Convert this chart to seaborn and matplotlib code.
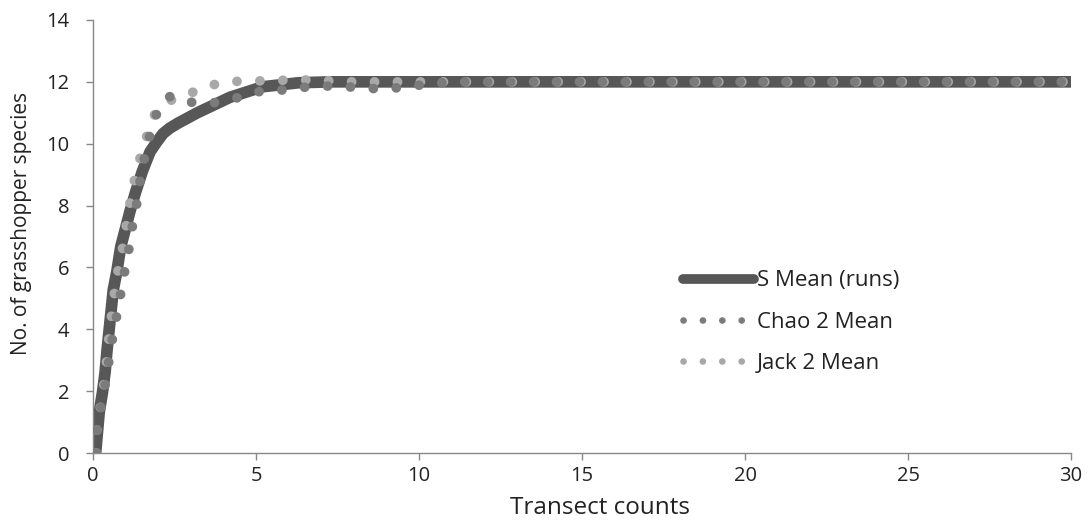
import matplotlib
matplotlib.use("Agg")
import matplotlib.pyplot as plt
from matplotlib.lines import Line2D
import seaborn as sns

# Species accumulation curves (grasshopper transect survey)
s_x = [0.08, 0.19, 0.29, 0.37, 0.43, 0.62, 0.73, 0.85, 1.13, 1.31, 1.51, 1.75,
       1.95, 2.15, 2.35, 2.6, 3.2, 4.2, 5.2, 6.3, 7.3, 30.0]
s_y = [0.0, 1.32, 1.96, 2.61, 3.33, 5.27, 5.87, 6.67, 7.8, 8.45, 9.1, 9.74,
       10.05, 10.33, 10.5, 10.66, 11.0, 11.5, 11.84, 11.97, 12.0, 12.0]

chao_x = [0.1, 0.11, 0.21, 0.33, 0.44, 0.52, 0.63, 0.75, 0.86, 0.97, 1.09, 1.18,
          1.30, 1.40, 1.48, 1.62, 1.77, 1.97, 2.33, 2.6, 3.05, 3.77, 4.49, 5.15,
          5.87, 6.59, 7.36, 8.08, 8.79, 9.51, 10.26, 11.0, 30.0]
chao_y = [0.0, 0.66, 1.32, 1.96, 2.61, 3.26, 3.9, 4.57, 5.22, 5.87, 6.52, 7.19,
          7.8, 8.45, 9.1, 9.74, 10.39, 11.03, 11.52, 11.52, 11.33, 11.33, 11.5, 11.7,
          11.74, 11.84, 11.87, 11.82, 11.77, 11.82, 11.93, 12.0, 12.0]

jack_x = [0.1, 0.11, 0.2, 0.3, 0.38, 0.44, 0.5, 0.58, 0.66, 0.76, 0.89, 0.99,
          1.09, 1.19, 1.33, 1.5, 1.7, 1.93, 2.5, 3.2, 3.87, 4.59, 5.3, 6.02,
          6.77, 8.0, 30.0]
jack_y = [0.0, 0.66, 1.32, 1.96, 2.61, 3.26, 3.9, 4.57, 5.22, 5.87, 6.52, 7.19,
          7.8, 8.45, 9.1, 9.77, 10.42, 11.05, 11.48, 11.71, 11.97, 12.03, 12.03, 12.06,
          12.06, 12.0, 12.0]

series_names = ["S Mean (runs)", "Chao 2 Mean", "Jack 2 Mean"]
x_ticks = [0, 5, 10, 15, 20, 25, 30]
y_ticks = [0, 2, 4, 6, 8, 10, 12, 14]

sns.set_theme(style="white")
plt.rcParams["font.family"] = ["Open Sans", "DejaVu Sans"]

fig = plt.figure(figsize=(10.92, 5.23), dpi=100)
ax = fig.add_axes([0.0852, 0.1338, 0.8956, 0.828])

s_color, chao_color, jack_color = "#575757", "#7b7b7b", "#a8a8a8"
dot_style = (0, (0.01, 2.35))

sns.lineplot(x=s_x, y=s_y, ax=ax, color=s_color, lw=8.4, estimator=None,
             sort=False, solid_capstyle="round", solid_joinstyle="round", zorder=2)
sns.lineplot(x=jack_x, y=jack_y, ax=ax, color=jack_color, lw=7.0, estimator=None,
             sort=False, linestyle=dot_style, dash_capstyle="round", zorder=3)
sns.lineplot(x=chao_x, y=chao_y, ax=ax, color=chao_color, lw=7.0, estimator=None,
             sort=False, linestyle=dot_style, dash_capstyle="round", zorder=4)

ax.set_xlim(0, 30)
ax.set_ylim(0, 14)
ax.set_xticks(x_ticks)
ax.set_yticks(y_ticks)
ax.set_xticklabels([str(v) for v in x_ticks])
ax.set_yticklabels([str(v) for v in y_ticks])

for side in ("top", "right"):
    ax.spines[side].set_visible(False)
for side in ("left", "bottom"):
    ax.spines[side].set_color("#888888")
    ax.spines[side].set_linewidth(1.0)

ax.tick_params(axis="both", which="major", direction="out", length=5, width=1,
               color="#888888", labelsize=14.5, labelcolor="#222222",
               left=True, bottom=True)
ax.tick_params(axis="y", pad=12)
ax.tick_params(axis="x", pad=4)

ax.set_xlabel("Transect counts", fontsize=17.5, color="#222222")
ax.set_ylabel("No. of grasshopper species", fontsize=15, color="#222222")
ax.xaxis.set_label_coords(0.518, -0.100)
ax.yaxis.set_label_coords(-0.062, 0.53)

handles = [
    Line2D([], [], color=s_color, lw=7, solid_capstyle="round"),
    Line2D([], [], color=chao_color, lw=4.8, linestyle=(0, (0.01, 2.9)),
           dash_capstyle="round"),
    Line2D([], [], color=jack_color, lw=4.8, linestyle=(0, (0.01, 2.9)),
           dash_capstyle="round"),
]
ax.legend(handles, series_names, frameon=False, fontsize=16,
          loc="upper left", bbox_to_anchor=(0.583, 0.468),
          handlelength=3.2, handletextpad=0.12, labelspacing=0.92,
          labelcolor="#222222")

fig.savefig("out.png", dpi=100)
